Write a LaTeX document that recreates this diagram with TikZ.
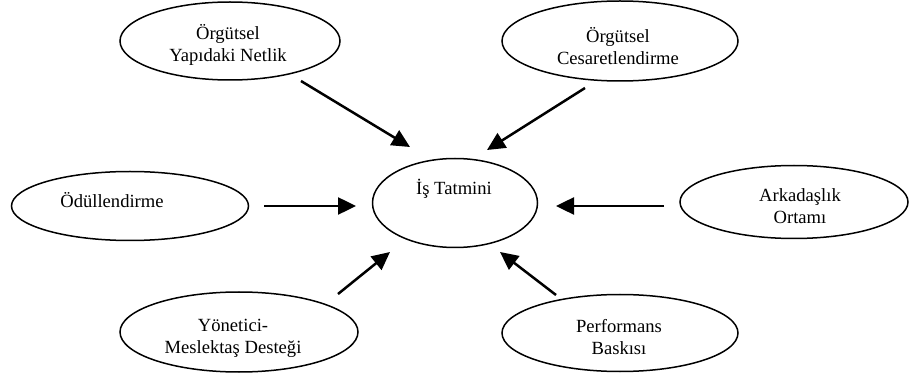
\documentclass[tikz,border=0pt]{standalone}
\usepackage{fontspec}
\setmainfont{Liberation Serif}
\usetikzlibrary{arrows.meta,shapes.geometric}

\begin{document}
\begin{tikzpicture}[x=1pt,y=-1pt,
  ov/.style={draw,ellipse,line width=1.5pt,inner sep=0pt},
  tx/.style={align=center,font=\fontsize{18.6}{22}\selectfont,anchor=base,inner sep=0pt},
  ar/.style={-{Triangle[length=18pt,width=17pt]},line width=2.5pt}]
\useasboundingbox (0,0) rectangle (911,374);
% ovals
\node[ov,minimum width=220,minimum height=78] (net) at (230,41) {};
\node[ov,minimum width=236,minimum height=80] (ces) at (620,41) {};
\node[ov,minimum width=237,minimum height=69] (odul) at (130,206) {};
\node[ov,minimum width=165,minimum height=89] (is) at (455,203) {};
\node[ov,minimum width=228,minimum height=73] (ark) at (794,202) {};
\node[ov,minimum width=238,minimum height=80] (yon) at (239,332) {};
\node[ov,minimum width=236,minimum height=77] (perf) at (620,333) {};
% texts (base = last line)
\node[tx] (tnet) at (228,62) {Örgütsel\\Yapıdaki Netlik};
\node[tx] (tces) at (618,65) {Örgütsel\\Cesaretlendirme};
\node[tx] (todul) at (112,208) {Ödüllendirme};
\node[tx] (tis) at (454,195) {İş Tatmini};
\node[tx] (tark) at (800,224) {Arkadaşlık\\Ortamı};
\node[tx] (tyon) at (233,353) {Yönetici-\\Meslektaş Desteği};
\node[tx] (tperf) at (619,354) {Performans\\Baskısı};
% arrow ends
\coordinate (a1) at (301,81);  \coordinate (b1) at (410,147);
\coordinate (a2) at (585,88);  \coordinate (b2) at (487,150);
\coordinate (a3) at (264,206); \coordinate (b3) at (356,206);
\coordinate (a4) at (664,206); \coordinate (b4) at (556,206);
\coordinate (a5) at (338,294); \coordinate (b5) at (390,252);
\coordinate (a6) at (556,295); \coordinate (b6) at (500,252);
\draw[ar] (a1)--(b1);
\draw[ar] (a2)--(b2);
\draw[ar] (a3)--(b3);
\draw[ar] (a4)--(b4);
\draw[ar] (a5)--(b5);
\draw[ar] (a6)--(b6);
\end{tikzpicture}
\end{document}
